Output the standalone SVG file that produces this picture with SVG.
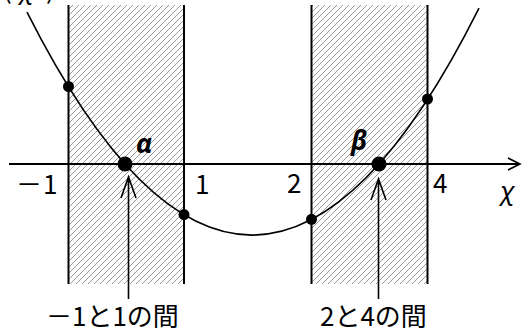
<svg xmlns="http://www.w3.org/2000/svg" width="522" height="334" viewBox="0 0 522 334">
<defs>
<pattern id="hatch" patternUnits="userSpaceOnUse" width="6" height="6">
<path d="M0,6 L6,0 M-1,1 L1,-1 M5,7 L7,5" stroke="#999" stroke-width="1"/>
</pattern>
</defs>
<style>
.bd{stroke:#000;stroke-width:2;fill:none}
.ln{stroke:#000;stroke-width:1.6;fill:none}
.t{font-family:"Noto Sans CJK JP","Noto Sans",sans-serif;fill:#000}
.n{font-family:"Noto Sans CJK JP","Noto Sans",sans-serif;font-size:26px;fill:#000}
.c{font-family:"Noto Sans","DejaVu Sans",sans-serif;font-style:italic;fill:#000}
.g{font-family:"Noto Sans","Liberation Sans",sans-serif;font-style:italic;font-weight:bold;fill:#000}
</style>
<rect width="522" height="334" fill="#fff"/>
<g id="regions">
<rect x="68.5" y="5" width="115.5" height="279" fill="url(#hatch)"/>
<rect x="311.5" y="5" width="116" height="279" fill="url(#hatch)"/>
<path class="bd" d="M68.5,5 V284 M184,5 V284 M311.5,5 V284 M427.5,5 V284"/>
</g>
<g id="axis">
<path class="bd" d="M9,164 H520"/>
<path class="ln" d="M508,158 L520,164 L508,170"/>
</g>
<g id="curve">
<path class="ln" d="M27,12.2 Q253,460 479,8.2"/>
<circle cx="68.5" cy="86.5" r="5.5"/>
<circle cx="184" cy="214.6" r="5.5"/>
<circle cx="311.5" cy="219.3" r="5.5"/>
<circle cx="427.5" cy="99" r="5.5"/>
<circle cx="125" cy="164" r="7.5"/>
<circle cx="379" cy="164" r="7.5"/>
</g>
<g id="connectors">
<path class="ln" d="M128.5,177 V299 M121,198 L128.5,177 L136,198"/>
<path class="ln" d="M378.5,179 V299 M371,200 L378.5,179 L386,200"/>
</g>
<g id="labels">
<text class="t" font-size="26" x="3" y="-1">(</text>
<text class="c" font-size="26" x="19" y="-1">χ</text>
<text class="t" font-size="26" x="46" y="-1">)</text>
<text class="n" x="16" y="194">－<tspan x="43">1</tspan></text>
<text class="n" x="195" y="194">1</text>
<text class="n" x="287" y="193">2</text>
<text class="n" x="433" y="193">4</text>
<text class="c" font-size="26" x="500" y="200">χ</text>
<text class="g" font-size="27" x="136" y="153">α</text>
<text class="g" font-size="26" x="351" y="150">β</text>
<text class="t" font-size="26" x="46" y="326">－1と1の間</text>
<text class="t" font-size="26" x="320" y="326">2と4の間</text>
</g>
</svg>
